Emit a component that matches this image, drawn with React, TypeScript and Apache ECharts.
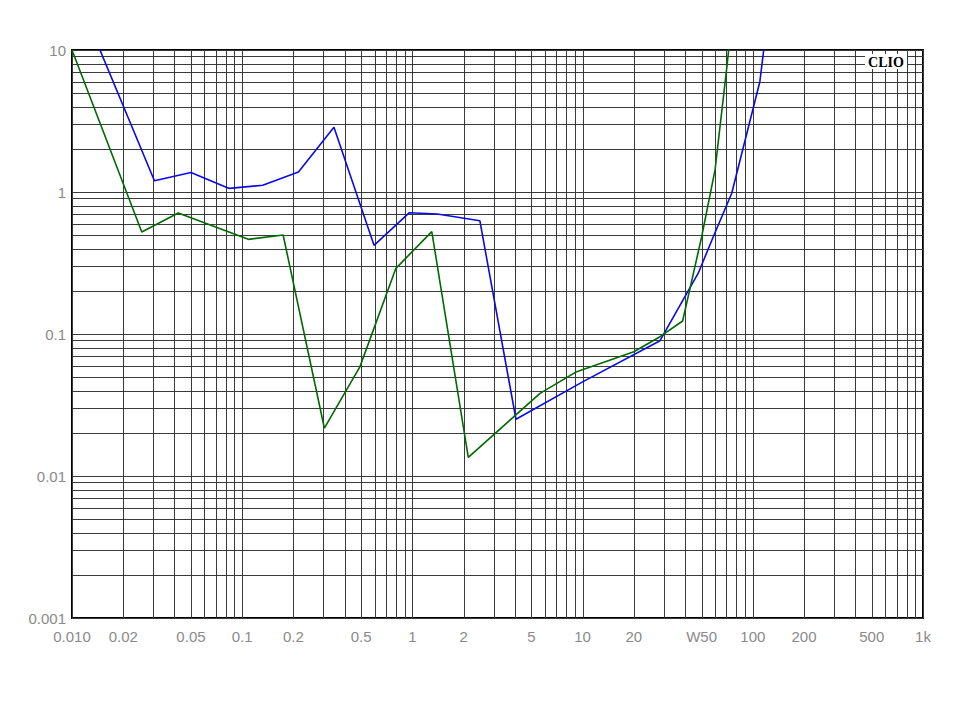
import React, { useEffect, useRef } from "react";
import * as echarts from "echarts";

// ---- data ----
const X_MIN = 0.01;
const X_MAX = 1000;
const Y_MIN = 0.001;
const Y_MAX = 10;

const blueX = [0.01, 0.0305, 0.05, 0.084, 0.132, 0.214, 0.346, 0.595, 0.96, 1.4, 2.49, 4.06, 10, 28.5, 47.8, 58.6, 75.2, 110, 120];
const blueY = [29.7, 1.2, 1.37, 1.06, 1.115, 1.383, 2.855, 0.421, 0.715, 0.7, 0.628, 0.0251, 0.046, 0.0897, 0.268, 0.484, 0.979, 5.98, 14];

const greenX = [0.01, 0.0257, 0.0421, 0.1086, 0.174, 0.304, 0.492, 0.8, 1.3, 2.13, 5.62, 9.23, 20, 28.5, 38.7, 50, 60, 70.8, 74];
const greenY = [10, 0.523, 0.711, 0.464, 0.498, 0.0217, 0.0589, 0.29, 0.526, 0.01354, 0.0382, 0.0543, 0.075, 0.0957, 0.1235, 0.48, 1.43, 8.06, 13.6];

const xTickValues = [0.01, 0.02, 0.05, 0.1, 0.2, 0.5, 1, 2, 5, 10, 20, 50, 100, 200, 500, 1000];
const xTickLabels = ["0.010", "0.02", "0.05", "0.1", "0.2", "0.5", "1", "2", "5", "10", "20", "W50", "100", "200", "500", "1k"];
const yTickLabels = ["0.001", "0.01", "0.1", "1", "10"];

const mantissas = [1, 2, 3, 4, 5, 6, 7, 8, 9];
const xDecades = [0.01, 0.1, 1, 10, 100];
const yDecades = [0.001, 0.01, 0.1, 1];

export default function App() {
  const ref = useRef<HTMLDivElement>(null);

  useEffect(() => {
    if (!ref.current) return;
    const chart = echarts.init(ref.current, null, { renderer: "svg" });

    const xGrid: number[] = [];
    xDecades.forEach((d) => mantissas.forEach((m) => xGrid.push(+(d * m).toPrecision(6))));
    xGrid.push(X_MAX);
    const yGrid: number[] = [];
    yDecades.forEach((d) => mantissas.forEach((m) => yGrid.push(+(d * m).toPrecision(6))));
    yGrid.push(Y_MAX);

    const gridColor = "#3a3a3a";
    const labelColor = "#8a8a8a";
    const labelFont = "Liberation Sans";

    const zip = (xs: number[], ys: number[]) => xs.map((x, i) => [x, ys[i]]);

    chart.setOption({
      animation: false,
      backgroundColor: "#ffffff",
      grid: {
        left: 72,
        right: 37,
        top: 50,
        bottom: 102,
        show: true,
        borderColor: "#000",
        borderWidth: 2,
        backgroundColor: "transparent",
      },
      xAxis: {
        type: "log",
        logBase: 10,
        min: X_MIN,
        max: X_MAX,
        axisLabel: { show: false },
        axisLine: { show: false },
        axisTick: { show: false },
        splitLine: { show: false },
      },
      yAxis: {
        type: "log",
        logBase: 10,
        min: Y_MIN,
        max: Y_MAX,
        axisLine: { show: false },
        axisTick: { show: false },
        splitLine: { show: false },
        axisLabel: {
          color: labelColor,
          fontSize: 15,
          fontFamily: labelFont,
          margin: 6,
          formatter: (v: number) => yTickLabels[Math.round(Math.log10(v)) + 3],
        },
      },
      series: [
        {
          type: "custom",
          name: "vgrid",
          silent: true,
          z: 1,
          data: xGrid.map((v) => [v, Y_MIN]),
          renderItem: (params: any, api: any) => {
            const x = api.value(0);
            const p1 = api.coord([x, Y_MIN]);
            const p2 = api.coord([x, Y_MAX]);
            const px = Math.round(p1[0]) + 0.5;
            return {
              type: "line",
              shape: { x1: px, y1: p1[1], x2: px, y2: p2[1] },
              style: { stroke: gridColor, lineWidth: 1 },
            };
          },
        },
        {
          type: "custom",
          name: "hgrid",
          silent: true,
          z: 1,
          data: yGrid.map((v) => [X_MIN, v]),
          renderItem: (params: any, api: any) => {
            const y = api.value(1);
            const p1 = api.coord([X_MIN, y]);
            const p2 = api.coord([X_MAX, y]);
            const py = Math.round(p1[1]) + 0.5;
            return {
              type: "line",
              shape: { x1: p1[0], y1: py, x2: p2[0], y2: py },
              style: { stroke: gridColor, lineWidth: 1 },
            };
          },
        },
        {
          type: "custom",
          name: "xlabels",
          silent: true,
          z: 3,
          data: xTickValues.map((v) => [v, Y_MIN]),
          renderItem: (params: any, api: any) => {
            const p = api.coord([api.value(0), Y_MIN]);
            return {
              type: "text",
              x: p[0],
              y: p[1] + 18,
              style: {
                text: xTickLabels[params.dataIndex],
                fill: labelColor,
                fontSize: 15,
                fontFamily: labelFont,
                align: "center",
                verticalAlign: "middle",
              },
            };
          },
        },
        {
          type: "line",
          name: "blue",
          data: zip(blueX, blueY),
          showSymbol: false,
          symbol: "none",
          clip: true,
          z: 5,
          lineStyle: { color: "#0a0ae6", width: 1.6 },
        },
        {
          type: "line",
          name: "green",
          data: zip(greenX, greenY),
          showSymbol: false,
          symbol: "none",
          clip: true,
          z: 6,
          lineStyle: { color: "#006a00", width: 1.6 },
        },
      ],
      graphic: [
        {
          type: "rect",
          z: 100,
          shape: { x: 865, y: 54, width: 42, height: 15 },
          style: { fill: "#ffffff" },
        },
        {
          type: "text",
          z: 101,
          x: 886,
          y: 62,
          style: {
            text: "CLIO",
            fill: "#000000",
            fontSize: 14,
            fontWeight: "bold",
            fontFamily: "Liberation Serif",
            align: "center",
            verticalAlign: "middle",
          },
        },
      ],
    });

    return () => chart.dispose();
  }, []);

  return (
    <div
      ref={ref}
      style={{ position: "fixed", left: 0, top: 0, width: 960, height: 720, background: "#fff" }}
    />
  );
}
